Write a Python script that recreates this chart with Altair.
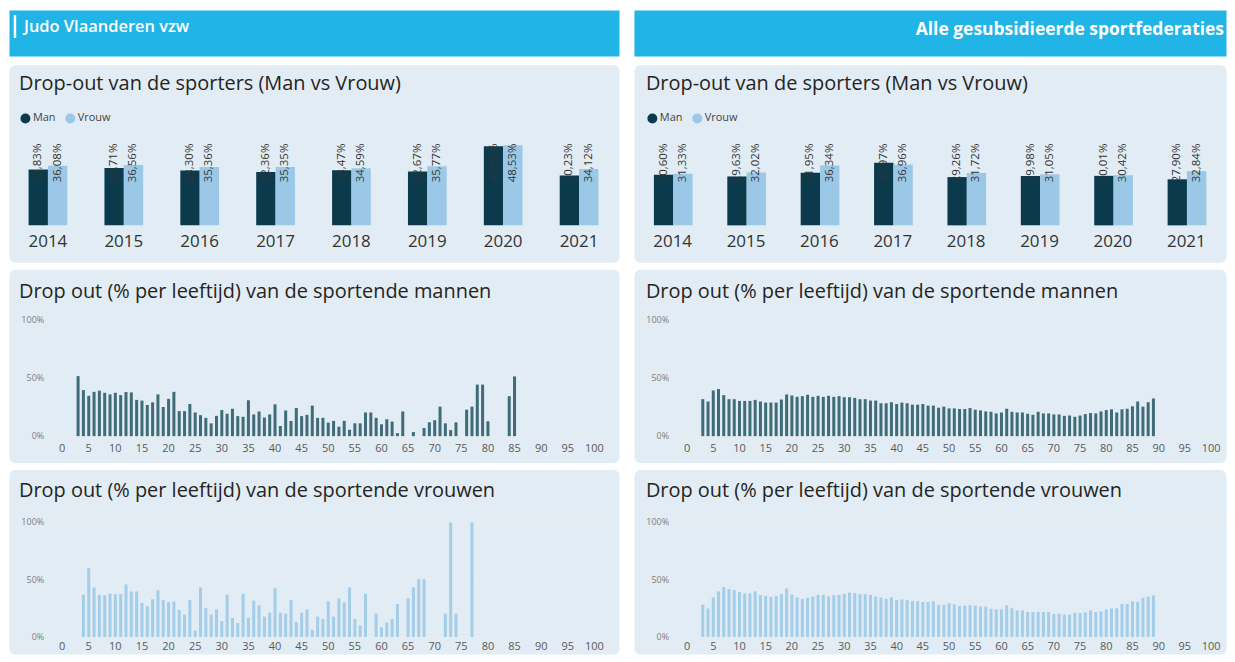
import altair as alt
import pandas as pd

FONT = "Open Sans"
BG = "#E1ECF4"
HDR = "#21B4E7"
DARK = "#0B3A4D"
LIGHT = "#9BC8E6"
MEN = "#3F6C78"
WOMEN = "#A3CDE9"
GRID = "#ECEEF0"

# ---------------- data ----------------
years = [2014, 2015, 2016, 2017, 2018, 2019, 2020, 2021]
sexes = ["Man", "Vrouw"]

judo_man = [33.83, 34.71, 33.30, 32.36, 33.47, 32.67, 47.95, 30.23]
judo_vrouw = [36.08, 36.56, 35.36, 35.35, 34.59, 35.77, 48.53, 34.12]
alle_man = [30.60, 29.63, 31.95, 37.97, 29.26, 29.98, 30.01, 27.90]
alle_vrouw = [31.33, 32.02, 36.34, 36.96, 31.72, 31.05, 30.42, 32.84]

judo_men_ages = [3, 4, 5, 6, 7, 8, 9, 10, 11, 12, 13, 14, 15, 16, 17, 18, 19, 20,
                 21, 22, 23, 24, 25, 26, 27, 28, 29, 30, 31, 32, 33, 34, 35, 36, 37,
                 38, 39, 40, 41, 42, 43, 44, 45, 46, 47, 48, 49, 50, 51, 52, 53, 54,
                 55, 56, 57, 58, 59, 60, 61, 62, 63, 64, 66, 68, 69, 70, 71, 72, 73,
                 74, 76, 77, 78, 79, 80, 84, 85]
judo_men_pct = [51.5, 39.5, 34.6, 38.0, 39.0, 37.2, 35.8, 37.2, 35.2, 37.8, 37.5, 31.1,
                30.5, 26.7, 29.0, 35.8, 25.0, 32.0, 38.0, 21.5, 21.5, 27.6, 20.3, 18.0,
                15.7, 11.0, 17.4, 22.4, 19.2, 23.5, 17.2, 16.6, 30.8, 18.6, 21.2, 16.0,
                18.6, 27.3, 8.7, 22.0, 13.0, 24.1, 17.2, 18.3, 26.2, 15.7, 15.7, 11.6,
                13.1, 8.1, 13.1, 5.5, 11.0, 11.0, 20.3, 20.3, 15.7, 10.2, 14.5, 12.5,
                2.6, 21.2, 3.5, 7.0, 11.9, 13.7, 25.3, 11.0, 5.2, 11.9, 22.7, 25.3,
                44.2, 44.2, 12.8, 34.3, 51.2]

judo_women_ages = [4, 5, 6, 7, 8, 9, 10, 11, 12, 13, 14, 15, 16, 17, 18, 19, 20, 21,
                   22, 23, 24, 25, 26, 27, 28, 29, 30, 31, 32, 33, 34, 35, 36, 37, 38,
                   39, 40, 41, 42, 43, 44, 45, 46, 47, 48, 49, 50, 51, 52, 53, 54, 55,
                   56, 57, 59, 60, 61, 62, 63, 65, 66, 67, 68, 72, 73, 74, 77]
judo_women_pct = [36.8, 60.0, 43.0, 36.8, 36.3, 37.7, 37.4, 37.4, 45.9, 39.7, 39.7, 29.7,
                  26.9, 32.9, 40.8, 32.3, 30.6, 30.9, 23.5, 19.5, 32.3, 5.4, 43.3, 25.2,
                  19.5, 24.1, 13.9, 36.8, 16.7, 12.2, 37.7, 16.7, 31.7, 27.8, 17.8, 21.2,
                  42.5, 21.2, 20.4, 32.3, 13.0, 21.2, 24.1, 6.2, 17.8, 15.6, 31.2, 17.8,
                  33.7, 30.3, 43.3, 15.6, 10.2, 37.7, 20.4, 8.5, 12.7, 15.6, 28.9, 33.7,
                  43.3, 50.4, 50.4, 20.4, 100.0, 20.4, 100.0]

alle_ages = list(range(3, 90))
alle_men_pct = [31.7, 29.7, 39.2, 40.4, 35.2, 31.7, 31.7, 30.2, 30.2, 30.2, 31.1, 29.7,
                28.8, 28.8, 28.8, 31.4, 35.8, 34.9, 33.7, 34.3, 35.5, 33.7, 34.6, 33.7,
                34.6, 33.7, 34.3, 33.4, 33.4, 32.8, 31.7, 31.7, 30.5, 30.5, 28.2, 28.2,
                29.1, 27.6, 28.8, 28.2, 27.0, 27.0, 27.6, 26.2, 26.2, 24.4, 25.3, 23.8,
                23.8, 23.3, 23.3, 24.1, 22.7, 22.1, 21.2, 20.9, 19.5, 20.3, 23.5, 20.9,
                20.3, 20.3, 19.2, 18.3, 20.9, 19.5, 19.5, 18.6, 18.6, 17.4, 17.7, 16.6,
                17.7, 18.9, 19.8, 19.5, 21.2, 22.4, 23.0, 20.3, 23.0, 23.5, 25.6, 29.7,
                25.3, 29.1, 32.3]
alle_women_pct = [28.2, 24.9, 34.5, 39.8, 43.5, 41.8, 41.0, 39.3, 38.1, 38.1, 39.8, 36.7,
                  35.9, 35.0, 35.9, 37.6, 42.4, 37.0, 34.5, 33.3, 34.2, 35.3, 36.7, 36.7,
                  35.3, 36.4, 36.7, 37.6, 38.7, 38.4, 37.3, 37.3, 36.7, 35.3, 34.5, 33.3,
                  34.7, 32.2, 32.8, 32.2, 31.4, 31.1, 30.5, 30.5, 31.1, 28.0, 28.0, 29.4,
                  28.5, 27.1, 27.4, 27.7, 27.4, 26.6, 26.6, 24.6, 24.0, 24.0, 27.7, 25.1,
                  23.2, 23.2, 21.8, 21.8, 22.0, 21.8, 21.8, 20.1, 20.3, 19.5, 19.5, 21.2,
                  20.9, 21.5, 23.2, 21.8, 22.3, 24.0, 24.9, 25.1, 28.8, 28.8, 31.1, 30.8,
                  34.2, 35.3, 36.2]

x_ticks = list(range(0, 101, 5))
y_ticks = [0, 0.5, 1.0]
y_tick_labels = ["0%", "50%", "100%"]

W_L = 612
W_R = 594
H_HDR = 46
H_P1 = 198
H_P2 = 194
H_P3 = 185


def panel_view():
    return alt.ViewBackground(fill=BG, cornerRadius=6, stroke="transparent")


def fmt(v):
    return f"{v:.2f}%".replace(".", ",")


def header(text, w, left):
    df = pd.DataFrame({"t": [text]})
    base = alt.Chart(df)
    if left:
        bar = base.mark_rule(color="white", strokeWidth=2.5).encode(
            x=alt.value(6), y=alt.value(5), y2=alt.value(28))
        txt = base.mark_text(font=FONT, fontSize=16.5, fontWeight=600, color="white",
                             align="left", baseline="middle").encode(
            x=alt.value(15), y=alt.value(17), text="t:N")
        layers = [bar, txt]
    else:
        txt = base.mark_text(font=FONT, fontSize=17.5, fontWeight="bold", color="white",
                             align="right", baseline="middle").encode(
            x=alt.value(w - 2), y=alt.value(20), text="t:N")
        layers = [txt]
    return alt.layer(*layers).properties(
        width=w, height=H_HDR,
        view=alt.ViewBackground(fill=HDR, stroke="transparent"))


def title_layer(text, y, x):
    return alt.Chart(pd.DataFrame({"t": [text]})).mark_text(
        font=FONT, fontSize=20, color="#252423", align="left", baseline="middle"
    ).encode(x=alt.value(x), y=alt.value(y), text="t:N")


def bar_panel(man, vrouw, w, xr, tx):
    rows = []
    for yr, m, v in zip(years, man, vrouw):
        rows.append({"jaar": str(yr), "geslacht": "Man", "waarde": m / 100, "label": fmt(m)})
        rows.append({"jaar": str(yr), "geslacht": "Vrouw", "waarde": v / 100, "label": fmt(v)})
    df = pd.DataFrame(rows)
    xs = alt.Scale(domain=[str(y) for y in years], range=xr, paddingInner=0.49,
                   paddingOuter=0.245)
    ys = alt.Scale(domain=[0, 0.5], range=[161, 78.25])
    xo = alt.XOffset("geslacht:N", scale=alt.Scale(domain=sexes, paddingInner=0))
    color = alt.Color(
        "geslacht:N",
        scale=alt.Scale(domain=sexes, range=[DARK, LIGHT]),
        legend=alt.Legend(orient="none", legendX=tx + 1, legendY=48, direction="horizontal",
                          title=None, symbolType="circle", symbolSize=100,
                          symbolStrokeWidth=0, labelFont=FONT, labelFontSize=11,
                          labelColor="#444", columnPadding=9, labelOffset=2, padding=0))
    bars = alt.Chart(df).mark_bar().encode(
        x=alt.X("jaar:N", scale=xs, axis=None),
        xOffset=xo,
        y=alt.Y("waarde:Q", scale=ys, axis=None),
        color=color)
    labels = alt.Chart(df).mark_text(
        font=FONT, fontSize=11.5, color="#333", angle=270, align="right", baseline="middle"
    ).encode(
        x=alt.X("jaar:N", scale=xs, axis=None),
        xOffset=xo,
        y=alt.value(79),
        text="label:N")
    ylab = alt.Chart(pd.DataFrame({"jaar": [str(y) for y in years]})).mark_text(
        font=FONT, fontSize=17, color="#333", baseline="middle"
    ).encode(
        x=alt.X("jaar:N", scale=xs, axis=None, bandPosition=0.5),
        y=alt.value(178),
        text="jaar:N")
    t = title_layer("Drop-out van de sporters (Man vs Vrouw)", 19, tx)
    return alt.layer(t, bars, labels, ylab).properties(width=w, height=H_P1, view=panel_view())


def hist_panel(title, ages, vals, color, w, h, geo, xr, tx):
    title_y, y100, y0, lab_y = geo
    df = pd.DataFrame({"leeftijd": ages, "pct": [v / 100 for v in vals]})
    xs = alt.Scale(domain=[0, 100], range=xr)
    ys = alt.Scale(domain=[0, 1], range=[y0, y100])
    gdf = pd.DataFrame({"v": y_ticks, "l": y_tick_labels})
    grid = alt.Chart(gdf).mark_rule(color=GRID, strokeWidth=1).encode(
        y=alt.Y("v:Q", scale=ys, axis=None), x=alt.value(xr[0] - 6), x2=alt.value(xr[1] + 4))
    ylab = alt.Chart(gdf).mark_text(font=FONT, fontSize=9, color="#808080", align="right",
                                    baseline="middle").encode(
        y=alt.Y("v:Q", scale=ys, axis=None), x=alt.value(xr[0] - 13), text="l:N")
    bars = alt.Chart(df).mark_bar(size=3, color=color).encode(
        x=alt.X("leeftijd:Q", scale=xs, axis=None),
        y=alt.Y("pct:Q", scale=ys, axis=None))
    xlab = alt.Chart(pd.DataFrame({"a": x_ticks})).mark_text(
        font=FONT, fontSize=11, color="#5a5a5a", baseline="middle").encode(
        x=alt.X("a:Q", scale=xs, axis=None), y=alt.value(lab_y), text="a:Q")
    t = title_layer(title, title_y, tx)
    return alt.layer(t, grid, ylab, bars, xlab).properties(width=w, height=h, view=panel_view())


T_MEN = "Drop out (% per leeftijd) van de sportende mannen"
T_WOMEN = "Drop out (% per leeftijd) van de sportende vrouwen"

GEO_MEN = (23, 50.5, 167.5, 180)
GEO_WOMEN = (22, 53, 168, 178)
XR_L = [48.3, 592.3]
XR_R = [48.3, 584]


def column(head, w, man, vrouw, men_ages, men_pct, women_ages, women_pct, bar_xr, hist_xr,
           tx):
    panels = alt.vconcat(
        bar_panel(man, vrouw, w, bar_xr, tx),
        hist_panel(T_MEN, men_ages, men_pct, MEN, w, H_P2, GEO_MEN, hist_xr, tx),
        hist_panel(T_WOMEN, women_ages, women_pct, WOMEN, w, H_P3, GEO_WOMEN, hist_xr, tx),
        spacing=5).resolve_scale(color="independent").resolve_legend(color="independent")
    return alt.vconcat(head, panels, spacing=7).resolve_scale(
        color="independent").resolve_legend(color="independent")


left = column(header("Judo Vlaanderen vzw", W_L, True), W_L, judo_man, judo_vrouw,
              judo_men_ages, judo_men_pct, judo_women_ages, judo_women_pct,
              [1, 610], XR_L, 10)
right = column(header("Alle gesubsidieerde sportfederaties", W_R, False), W_R, alle_man,
               alle_vrouw, alle_ages, alle_men_pct, alle_ages, alle_women_pct,
               [2, 591], XR_R, 12)

chart = alt.hconcat(left, right, spacing=13).resolve_scale(
    color="independent").resolve_legend(color="independent").properties(
    padding={"left": 0, "top": 0, "right": 0, "bottom": 0},
    background="white",
).configure(font=FONT)

chart.save("out.html", embed_options={"renderer": "svg", "actions": False})
